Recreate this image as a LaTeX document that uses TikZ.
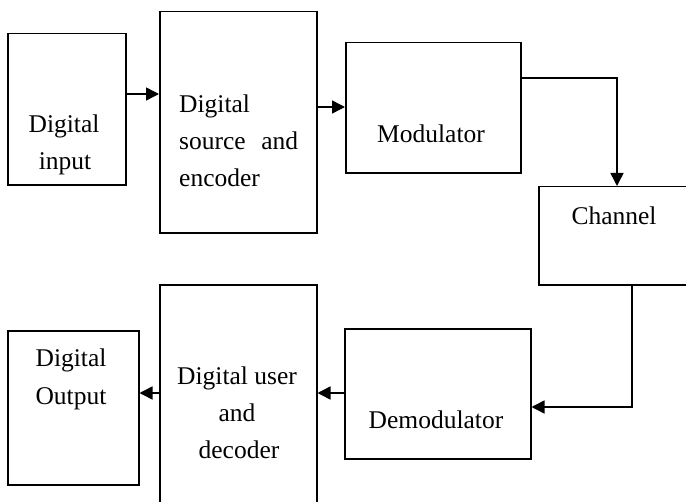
\documentclass[tikz,border=0pt]{standalone}
\usepackage{fontspec}
\setmainfont{Liberation Serif}
\usetikzlibrary{arrows.meta}
\begin{document}
\begin{tikzpicture}[x=1bp,y=-1bp,
  box/.style={draw, line width=1.5bp, inner sep=0pt, anchor=north west},
  lbl/.style={font=\fontsize{25.5bp}{30bp}\selectfont, inner sep=0pt, anchor=base},
  arr/.style={line width=1.5bp, -{Triangle[length=13bp,width=13bp]}}]
\clip (0,0) rectangle (686,502);
\fill[white] (0,0) rectangle (686,502);
% boxes
\node[box, minimum width=118bp, minimum height=151bp] (input) at (7,33) {};
\node[box, minimum width=157bp, minimum height=221bp] (src) at (159,11) {};
\node[box, minimum width=175bp, minimum height=130bp] (mod) at (345,42) {};
\node[box, minimum width=170bp, minimum height=98bp] (chan) at (538,186) {};
\node[box, minimum width=186bp, minimum height=130bp] (demod) at (344,328) {};
\node[box, minimum width=157bp, minimum height=240bp] (dec) at (159,284) {};
\node[box, minimum width=131bp, minimum height=154bp] (out) at (7,330) {};
% labels
\node[lbl] (t1) at (64,133) {Digital};
\node[lbl] (t2) at (65,170) {input};
\node[lbl, anchor=base west] (t3) at (179,113) {Digital};
\node[lbl, anchor=base west] (t4) at (179,150) {\makebox[119bp]{source\hfill and}};
\node[lbl, anchor=base west] (t5) at (179,187) {encoder};
\node[lbl] (t6) at (431,143) {Modulator};
\node[lbl] (t7) at (614,225) {Channel};
\node[lbl] (t8) at (436,428) {Demodulator};
\node[lbl] (t9) at (71,366) {Digital};
\node[lbl] (t10) at (71,404) {Output};
\node[lbl] (t11) at (237,384) {Digital user};
\node[lbl] (t12) at (237,421) {and};
\node[lbl] (t13) at (239,458) {decoder};
% connector guides
\coordinate (k1) at (0,94);
\coordinate (k2) at (0,107);
\coordinate (k3) at (617,78);
\coordinate (k4) at (632,407);
\coordinate (k5) at (0,393);
% connectors
\draw[arr] (input.east |- k1) -- (src.west |- k1);
\draw[arr] (src.east |- k2) -- (mod.west |- k2);
\draw[arr] (mod.east |- k3) -| (chan.north -| k3);
\draw[arr] (chan.south -| k4) |- (demod.east |- k4);
\draw[arr] (demod.west |- k5) -- (dec.east |- k5);
\draw[arr] (dec.west |- k5) -- (out.east |- k5);
\end{tikzpicture}
\end{document}
